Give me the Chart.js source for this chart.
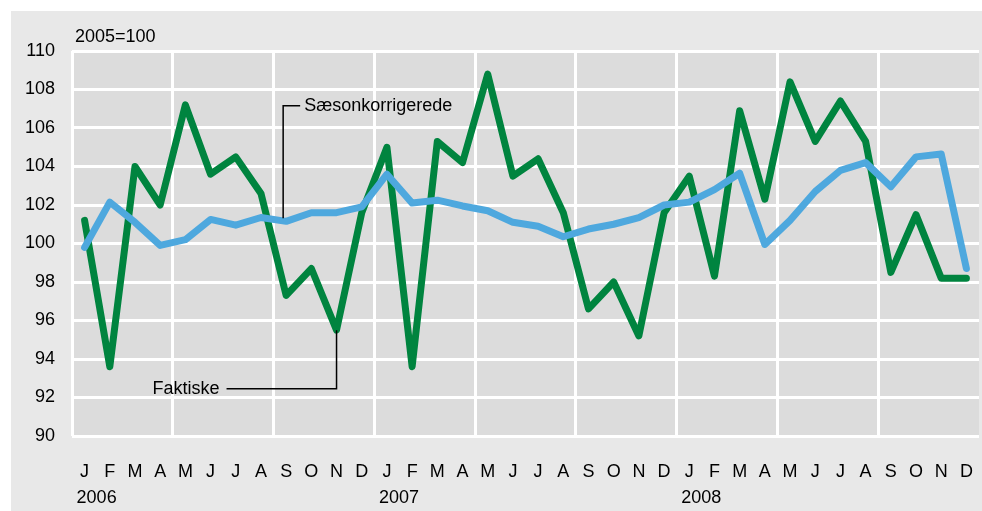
<!DOCTYPE html>
<html>
<head>
<meta charset="utf-8">
<script src="https://cdn.jsdelivr.net/npm/chart.js@4"></script>
<style>
    html, body { margin: 0; padding: 0; background: #fff; }
    #wrap { width: 982px; height: 511px; position: relative; }
</style>
</head>
<body>
<div id="wrap"><canvas id="chart"></canvas></div>
<script>
const months = ['J', 'F', 'M', 'A', 'M', 'J', 'J', 'A', 'S', 'O', 'N', 'D'];
const labels = [...months, ...months, ...months];
const years = ['2006', '2007', '2008'];

// Faktiske (green)
const faktiske = [
    101.2, 93.6, 104.0, 102.0, 107.2, 103.6, 104.5, 102.6, 97.3, 98.7, 95.5, 101.6,
    105.0, 93.6, 105.3, 104.2, 108.8, 103.5, 104.4, 101.6, 96.6, 98.0, 95.2, 101.6,
    103.5, 98.3, 106.9, 102.3, 108.4, 105.3, 107.4, 105.3, 98.5, 101.5, 98.2, 98.2
];

// Sæsonkorrigerede (blue)
const saeson = [
    99.8, 102.15, 101.1, 99.9, 100.2, 101.25, 100.95, 101.35, 101.15, 101.6, 101.6, 101.9,
    103.6, 102.1, 102.25, 101.95, 101.7, 101.1, 100.9, 100.35, 100.75, 101.0, 101.35, 102.0,
    102.15, 102.8, 103.65, 99.95, 101.2, 102.7, 103.8, 104.2, 102.95, 104.5, 104.65, 98.7
];

const yTicks = { min: 90, max: 110, step: 2 };
const font = '"Liberation Sans", Arial, sans-serif';
const fontSize = 18;

const decor = {
    id: 'decor',
    beforeDraw(chart) {
        const c = chart.ctx;
        const a = chart.chartArea;
        c.save();
        c.fillStyle = '#e8e8e8';
        c.fillRect(11, 11, chart.width - 11, chart.height - 11);
        c.fillStyle = '#dcdcdc';
        c.fillRect(a.left, a.top, a.right - a.left, a.bottom - a.top);
        c.restore();
    },
    afterDraw(chart) {
        const c = chart.ctx;
        const x = chart.scales.x;
        const y = chart.scales.y;
        c.save();
        c.fillStyle = '#000';
        c.font = fontSize + 'px ' + font;
        c.textBaseline = 'middle';

        // unit text
        c.textAlign = 'left';
        c.fillText('2005=100', 75, 37);

        // year labels under each January
        years.forEach((yr, i) => {
            c.fillText(yr, x.getPixelForValue(i * 12) - 8, 498);
        });

        c.strokeStyle = '#000';
        c.lineWidth = 1.5;

        // Sæsonkorrigerede leader
        const sx = x.getPixelForValue(8) - 3;
        const sTop = y.getPixelForValue(107.15);
        c.beginPath();
        c.moveTo(sx, y.getPixelForValue(saeson[8]) - 3);
        c.lineTo(sx, sTop);
        c.lineTo(sx + 17, sTop);
        c.stroke();
        c.fillText('Sæsonkorrigerede', sx + 21, sTop);

        // Faktiske leader
        const fx = x.getPixelForValue(10);
        const fBot = y.getPixelForValue(92.45);
        c.beginPath();
        c.moveTo(fx, y.getPixelForValue(faktiske[10]));
        c.lineTo(fx, fBot);
        c.lineTo(fx - 110, fBot);
        c.stroke();
        c.textAlign = 'right';
        c.fillText('Faktiske', fx - 117, fBot);
        c.restore();
    }
};

new Chart(document.getElementById('chart'), {
    type: 'line',
    data: {
        labels: labels,
        datasets: [
            {
                label: 'Sæsonkorrigerede',
                data: saeson,
                borderColor: '#4ea8de',
                borderWidth: 7,
                pointRadius: 0,
                borderJoinStyle: 'round',
                borderCapStyle: 'round',
                tension: 0
            },
            {
                label: 'Faktiske',
                data: faktiske,
                borderColor: '#00843f',
                borderWidth: 7,
                pointRadius: 0,
                borderJoinStyle: 'round',
                borderCapStyle: 'round',
                tension: 0
            }
        ]
    },
    options: {
        responsive: true,
        maintainAspectRatio: false,
        animation: false,
        layout: { padding: { left: 0, top: 51, right: 3, bottom: 0 } },
        plugins: {
            legend: { display: false },
            tooltip: { enabled: false }
        },
        scales: {
            x: {
                offset: true,
                grid: {
                    offset: true,
                    drawTicks: false,
                    lineWidth: 3,
                    color: ctx => (ctx.index % 4 === 0 ? '#ffffff' : 'rgba(0,0,0,0)')
                },
                border: { display: false },
                ticks: {
                    autoSkip: false,
                    maxRotation: 0,
                    padding: 25,
                    color: '#000',
                    font: { family: font, size: fontSize }
                },
                afterFit: s => {
                    s.height = 75;
                    s.paddingLeft = 0;
                    s.paddingRight = 0;
                }
            },
            y: {
                min: yTicks.min,
                max: yTicks.max,
                grid: {
                    drawTicks: false,
                    lineWidth: 3,
                    color: '#ffffff'
                },
                border: { display: false },
                ticks: {
                    stepSize: yTicks.step,
                    padding: 17,
                    color: '#000',
                    font: { family: font, size: fontSize }
                },
                afterFit: s => { s.width = 72; }
            }
        }
    },
    plugins: [decor]
});
</script>
</body>
</html>
